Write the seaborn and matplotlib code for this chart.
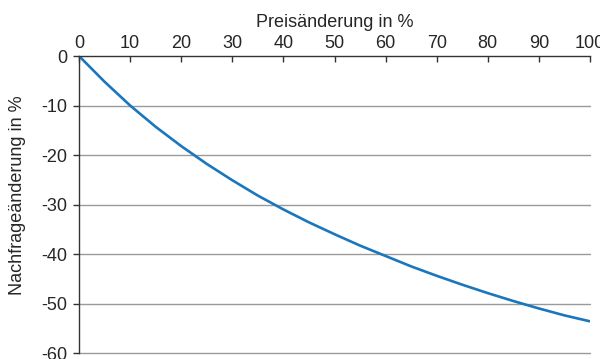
import matplotlib
matplotlib.use("Agg")
import matplotlib.pyplot as plt
import seaborn as sns
import pandas as pd

# values
preis = [0, 5, 10, 15, 20, 25, 30, 35, 40, 45, 50,
         55, 60, 65, 70, 75, 80, 85, 90, 95, 100]
nachfrage = [0, -5.2, -10, -14.3, -18.2, -21.8, -25.1, -28.2, -31.0, -33.6, -36.0,
             -38.3, -40.4, -42.5, -44.4, -46.2, -47.9, -49.5, -51.0, -52.4, -53.6]
x_ticks = list(range(0, 101, 10))
y_ticks = list(range(0, -61, -10))

df = pd.DataFrame({"Preis": preis, "Nachfrage": nachfrage})

sns.set_style("white")
plt.rcParams["font.family"] = ["Liberation Sans", "DejaVu Sans"]
plt.rcParams["axes.unicode_minus"] = False

fig = plt.figure(figsize=(6, 3.59), dpi=100)
ax = fig.add_axes([0.1317, 0.0167, 0.8516, 0.8273])

sns.lineplot(data=df, x="Preis", y="Nachfrage", ax=ax, color="#1a76bd", linewidth=1.9)

# horizontal grid lines
for yv in y_ticks[1:]:
    ax.axhline(yv, color="#9a9a9a", linewidth=1.0, zorder=0, clip_on=False)

ax.set_xlim(0, 100)
ax.set_ylim(-60, 0)
ax.set_xticks(x_ticks)
ax.set_yticks(y_ticks)
ax.xaxis.tick_top()
ax.xaxis.set_label_position("top")
ax.tick_params(axis="x", direction="in", length=4, width=1, color="#333333",
               labelsize=13, pad=3)
ax.tick_params(axis="y", direction="out", length=4.5, width=1, color="#333333",
               labelsize=13, pad=4, left=True)
ax.set_xlabel("Preisänderung in %", fontsize=13, labelpad=6)
ax.set_ylabel("Nachfrageänderung in %", fontsize=13)
ax.yaxis.set_label_coords(-0.103, 0.532)

for side in ["right", "bottom"]:
    ax.spines[side].set_visible(False)
for side in ["top", "left"]:
    ax.spines[side].set_color("#333333")
    ax.spines[side].set_linewidth(1.0)

fig.savefig("out.png", dpi=100)
